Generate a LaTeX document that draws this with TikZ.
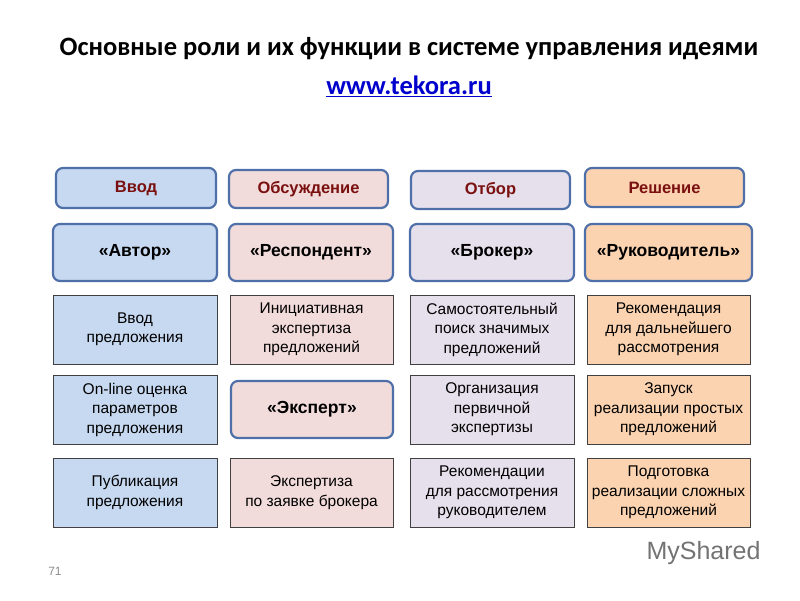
\documentclass[tikz,border=0pt]{standalone}
\usepackage{fontspec}
\setmainfont{Liberation Sans}
\newfontfamily\calfont{Carlito}
\begin{document}
\begin{tikzpicture}[x=1pt,y=-1pt,
  rb/.style={draw=bord,line width=2.2pt,rounded corners=7pt,font=\bfseries\fontsize{17.5}{20}\selectfont,align=center},
  hd/.style={rb,text=hdred,font=\bfseries\fontsize{16.5}{20}\selectfont},
  pl/.style={draw=black!75,line width=0.8pt,font=\fontsize{15.5}{19.5}\selectfont,align=center}]
\definecolor{bord}{HTML}{4F6FA8}
\definecolor{hdred}{HTML}{7A1010}
\definecolor{cb}{HTML}{C6D9F1}
\definecolor{cp}{HTML}{F2DCDB}
\definecolor{cl}{HTML}{E6E0EC}
\definecolor{co}{HTML}{FBD3B0}
\useasboundingbox (0,0) rectangle (800,600);
\fill[white] (0,0) rectangle (800,600);
\node[font=\calfont\bfseries\fontsize{26.5}{30}\selectfont] (title) at (409,49) {Основные роли и их функции в системе управления идеями};
\node[font=\calfont\bfseries\fontsize{26.5}{30}\selectfont,text=blue!80!black] (url) at (409,86) {\underline{www.tekora.ru}};
% headers
\node[hd,fill=cb,minimum width=160,minimum height=40] (h1) at (136,188) {Ввод};
\node[hd,fill=cp,minimum width=159,minimum height=38] (h2) at (308.5,189) {Обсуждение};
\node[hd,fill=cl,minimum width=159,minimum height=38] (h3) at (490.5,190) {Отбор};
\node[hd,fill=co,minimum width=159,minimum height=39] (h4) at (664.5,187.5) {Решение};
% roles
\node[rb,fill=cb,minimum width=164,minimum height=57] (r1) at (135,252.5) {«Автор»};
\node[rb,fill=cp,minimum width=164,minimum height=57] (r2) at (311,252.5) {«Респондент»};
\node[rb,fill=cl,minimum width=164,minimum height=57] (r3) at (492,252.5) {«Брокер»};
\node[rb,fill=co,minimum width=167,minimum height=57] (r4) at (668.5,252.5) {«Руководитель»};
% row 3
\node[pl,fill=cb,minimum width=164,minimum height=69] (a1) at (135,329.5) {Ввод\\предложения};
\node[pl,fill=cp,minimum width=163,minimum height=69] (a2) at (311.5,329.5) {Инициативная\\экспертиза\\предложений};
\node[pl,fill=cl,minimum width=164,minimum height=69] (a3) at (492,329.5) {Самостоятельный\\поиск значимых\\предложений};
\node[pl,fill=co,minimum width=163,minimum height=69] (a4) at (668.5,329.5) {Рекомендация\\для дальнейшего\\рассмотрения};
% row 4
\node[pl,fill=cb,minimum width=164,minimum height=69] (b1) at (135,409.5) {On-line оценка\\параметров\\предложения};
\node[rb,fill=cp,minimum width=162,minimum height=57] (b2) at (312,409.5) {«Эксперт»};
\node[pl,fill=cl,minimum width=164,minimum height=69] (b3) at (492,409.5) {Организация\\первичной\\экспертизы};
\node[pl,fill=co,minimum width=163,minimum height=69] (b4) at (668.5,409.5) {Запуск\\реализации простых\\предложений};
% row 5
\node[pl,fill=cb,minimum width=164,minimum height=69] (c1) at (135,492.5) {Публикация\\предложения};
\node[pl,fill=cp,minimum width=163,minimum height=69] (c2) at (311.5,492.5) {Экспертиза\\по заявке брокера};
\node[pl,fill=cl,minimum width=164,minimum height=69] (c3) at (492,492.5) {Рекомендации\\для рассмотрения\\руководителем};
\node[pl,fill=co,minimum width=163,minimum height=69] (c4) at (668.5,492.5) {Подготовка\\реализации сложных\\предложений};
\node[text=black!45,font=\fontsize{12}{14}\selectfont] (pg) at (55,571) {71};
\node[text=black!55,font=\fontsize{25}{30}\selectfont,anchor=west] (ms) at (643,553) {MyShared};
\end{tikzpicture}
\end{document}
